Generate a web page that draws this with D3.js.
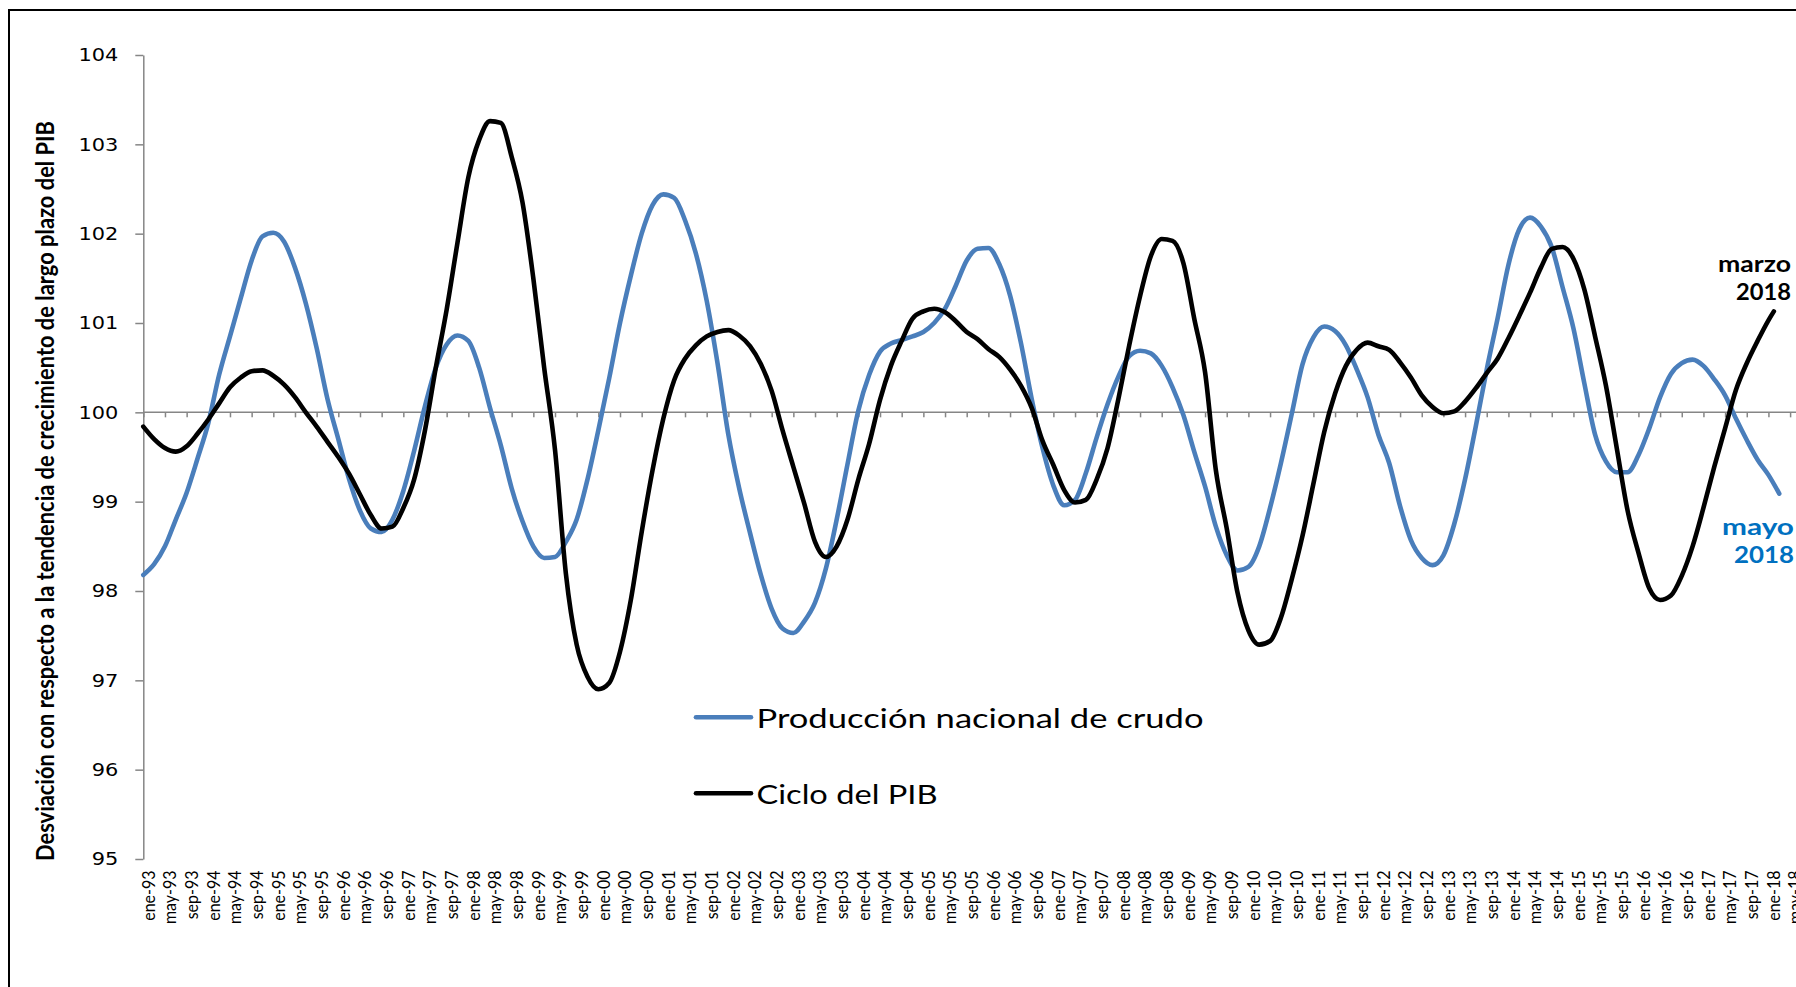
<!DOCTYPE html>
<html>
<head>
<meta charset="utf-8">
<script src="https://cdn.jsdelivr.net/npm/d3@7"></script>
<style>
  html, body { margin: 0; padding: 0; background: #fff; overflow: hidden; }
  svg { display: block; }
</style>
</head>
<body>
<svg id="chart" width="1796" height="987"></svg>
<script>
(function() {

  // categorias del eje X: una etiqueta cada 4 meses (mes 0 = ene-93)
  var etiquetas = [
    "ene-93","may-93","sep-93","ene-94","may-94","sep-94","ene-95","may-95","sep-95",
    "ene-96","may-96","sep-96","ene-97","may-97","sep-97","ene-98","may-98","sep-98",
    "ene-99","may-99","sep-99","ene-00","may-00","sep-00","ene-01","may-01","sep-01",
    "ene-02","may-02","sep-02","ene-03","may-03","sep-03","ene-04","may-04","sep-04",
    "ene-05","may-05","sep-05","ene-06","may-06","sep-06","ene-07","may-07","sep-07",
    "ene-08","may-08","sep-08","ene-09","may-09","sep-09","ene-10","may-10","sep-10",
    "ene-11","may-11","sep-11","ene-12","may-12","sep-12","ene-13","may-13","sep-13",
    "ene-14","may-14","sep-14","ene-15","may-15","sep-15","ene-16","may-16","sep-16",
    "ene-17","may-17","sep-17","ene-18","may-18"
  ];
  var mesesEtiqueta = etiquetas.map((e, i) => i * 4);

  var yTicks = [95, 96, 97, 98, 99, 100, 101, 102, 103, 104];

  // Produccion nacional de crudo, un valor cada 2 meses desde ene-93
  var produccion = [
    98.18, 98.30, 98.50, 98.80, 99.10, 99.48, 99.88, 100.42, 100.85, 101.28,
    101.70, 101.97, 102.01, 101.91, 101.62, 101.22, 100.72, 100.15, 99.70, 99.25,
    98.90, 98.70, 98.66, 98.80, 99.12, 99.57, 100.07, 100.50, 100.76, 100.86,
    100.80, 100.50, 100.05, 99.63, 99.15, 98.78, 98.50, 98.37, 98.38, 98.55,
    98.80, 99.25, 99.80, 100.38, 101.00, 101.53, 102.00, 102.32, 102.44, 102.40,
    102.15, 101.78, 101.25, 100.55, 99.75, 99.15, 98.65, 98.18, 97.80, 97.58,
    97.53, 97.66, 97.87, 98.25, 98.80, 99.42, 100.02, 100.42, 100.68, 100.77,
    100.81, 100.85, 100.90, 101.00, 101.16, 101.42, 101.70, 101.83, 101.84, 101.66,
    101.31, 100.78, 100.15, 99.60, 99.18, 98.96, 99.02, 99.32, 99.72, 100.09,
    100.40, 100.63, 100.69, 100.66, 100.52, 100.28, 99.97, 99.56, 99.17, 98.72,
    98.40, 98.23, 98.27, 98.50, 98.93, 99.43, 99.98, 100.54, 100.84, 100.96,
    100.91, 100.75, 100.48, 100.17, 99.75, 99.43, 98.95, 98.57, 98.37, 98.29,
    98.40, 98.75, 99.25, 99.85, 100.48, 101.05, 101.65, 102.05, 102.18, 102.08,
    101.85, 101.40, 100.94, 100.33, 99.75, 99.45, 99.33, 99.33, 99.52, 99.82,
    100.17, 100.43, 100.55, 100.59, 100.52, 100.37, 100.19, 99.93, 99.69, 99.47,
    99.30, 99.09
  ];
  var mesesProduccion = produccion.map((v, i) => i * 2);

  // Ciclo del PIB, un valor cada 2 meses desde ene-93 y el ultimo dato
  var ciclo = [
    99.84, 99.70, 99.60, 99.56, 99.62, 99.76, 99.92, 100.10, 100.28, 100.39,
    100.46, 100.47, 100.41, 100.31, 100.17, 100.00, 99.84, 99.67, 99.50, 99.31,
    99.08, 98.85, 98.70, 98.72, 98.93, 99.25, 99.80, 100.50, 101.15, 101.90,
    102.63, 103.05, 103.26, 103.24, 102.86, 102.35, 101.50, 100.50, 99.58, 98.20,
    97.40, 97.04, 96.90, 96.97, 97.32, 97.90, 98.66, 99.35, 99.93, 100.36,
    100.60, 100.75, 100.85, 100.90, 100.92, 100.86, 100.74, 100.54, 100.24, 99.80,
    99.39, 98.98, 98.55, 98.38, 98.50, 98.80, 99.25, 99.65, 100.14, 100.52,
    100.80, 101.05, 101.13, 101.16, 101.12, 101.02, 100.90, 100.82, 100.71, 100.62,
    100.48, 100.30, 100.05, 99.68, 99.41, 99.13, 98.99, 99.02, 99.25, 99.60,
    100.15, 100.75, 101.30, 101.75, 101.94, 101.92, 101.67, 101.05, 100.45, 99.35,
    98.70, 97.98, 97.56, 97.40, 97.44, 97.70, 98.13, 98.62, 99.20, 99.78,
    100.21, 100.52, 100.70, 100.78, 100.74, 100.70, 100.56, 100.39, 100.19, 100.06,
    99.99, 100.01, 100.12, 100.27, 100.44, 100.60, 100.83, 101.08, 101.34, 101.62,
    101.83, 101.85, 101.72, 101.38, 100.85, 100.30, 99.60, 98.90, 98.43, 98.03,
    97.90, 97.95, 98.17, 98.50, 98.93, 99.39, 99.82, 100.25, 100.55, 100.80,
    101.03, 101.13
  ];
  var mesesCiclo = ciclo.map((v, i) => i < 151 ? i * 2 : 301);

  var series = [
    { nombre: "Producción nacional de crudo", color: "#4a7ebb", meses: mesesProduccion, valores: produccion },
    { nombre: "Ciclo del PIB", color: "#000000", meses: mesesCiclo, valores: ciclo }
  ];

  var x = d3.scaleLinear()
      .domain([0, 304])
      .range([143.3, 1790.1]);

  var y = d3.scaleLinear()
      .domain([95, 104])
      .range([859, 55]);

  var svg = d3.select("#chart");

  // marco del grafico
  svg.append("rect")
      .attr("x", 9)
      .attr("y", 10)
      .attr("width", 2000)
      .attr("height", 2000)
      .attr("fill", "none")
      .attr("stroke", "#000")
      .attr("stroke-width", 2);

  // eje Y
  var yAxis = d3.axisLeft(y)
      .tickValues(yTicks)
      .tickSize(8)
      .tickSizeOuter(0)
      .tickPadding(17)
      .tickFormat(d3.format("d"));

  var gy = svg.append("g")
      .attr("transform", "translate(" + x(0) + ",0)")
      .call(yAxis);

  gy.select(".domain").attr("stroke", "#868686").attr("stroke-width", 1.5);
  gy.selectAll(".tick line").attr("stroke", "#868686").attr("stroke-width", 1.5);
  gy.selectAll(".tick text")
      .style("font", "18px 'DejaVu Sans'")
      .attr("fill", "#000")
      .attr("textLength", d => String(d).length * 13.3)
      .attr("lengthAdjust", "spacingAndGlyphs");

  // eje X cruzando en 100 (solo marcas)
  var xAxis = d3.axisBottom(x)
      .tickValues(mesesEtiqueta)
      .tickSize(5)
      .tickSizeOuter(0)
      .tickFormat("");

  var gx = svg.append("g")
      .attr("transform", "translate(0," + y(100) + ")")
      .call(xAxis);

  gx.select(".domain").remove();
  gx.append("line")
      .attr("x1", x(0))
      .attr("x2", 1796)
      .attr("stroke", "#868686")
      .attr("stroke-width", 1.5);
  gx.selectAll(".tick line").attr("stroke", "#868686").attr("stroke-width", 1.5);

  // etiquetas del eje X en la parte baja
  var xLabels = d3.axisBottom(x)
      .tickValues(mesesEtiqueta)
      .tickSize(0)
      .tickSizeOuter(0)
      .tickFormat((d, i) => etiquetas[i]);

  var gl = svg.append("g")
      .attr("transform", "translate(0," + y(95) + ")")
      .call(xLabels);

  gl.select(".domain").remove();
  gl.selectAll(".tick text")
      .attr("y", null)
      .attr("text-anchor", "end")
      .attr("dy", "0.35em")
      .attr("transform", "translate(4.6,11.5) scale(1.1,1) rotate(-90)")
      .attr("fill", "#000")
      .style("font", "16px Lato");

  // titulo del eje Y
  svg.append("text")
      .attr("transform", "translate(54,491) scale(1.1,1) rotate(-90)")
      .attr("text-anchor", "middle")
      .attr("textLength", 740)
      .attr("lengthAdjust", "spacingAndGlyphs")
      .style("font", "bold 23px Lato")
      .attr("fill", "#000")
      .text("Desviación con respecto a la tendencia de crecimiento de largo plazo del PIB");

  // series
  var line = d3.line()
      .x(d => x(d[0]))
      .y(d => y(d[1]))
      .curve(d3.curveMonotoneX);

  svg.selectAll(".serie")
      .data(series)
    .enter().append("path")
      .attr("class", "serie")
      .attr("d", s => line(d3.zip(s.meses, s.valores)))
      .attr("fill", "none")
      .attr("stroke", s => s.color)
      .attr("stroke-width", 4.6)
      .attr("stroke-linejoin", "round")
      .attr("stroke-linecap", "round");

  // leyenda
  var legendLen = [447, 181];
  var legend = svg.append("g").attr("class", "legend");
  series.forEach((s, i) => {
    var ly = 717.3 + i * 76;
    legend.append("line")
        .attr("x1", 696)
        .attr("x2", 751)
        .attr("y1", ly)
        .attr("y2", ly)
        .attr("stroke", s.color)
        .attr("stroke-width", 4.6)
        .attr("stroke-linecap", "round");
    legend.append("text")
        .attr("x", 756.5)
        .attr("y", ly + 11)
        .attr("textLength", legendLen[i])
        .attr("lengthAdjust", "spacingAndGlyphs")
        .style("font", "26.5px Lato")
        .attr("fill", "#000")
        .text(s.nombre);
  });

  // anotaciones del ultimo dato
  function nota(lines, color, xr, y0, lens) {
    lines.forEach((t, i) => {
      svg.append("text")
          .attr("x", xr)
          .attr("y", y0 + i * 28.5)
          .attr("text-anchor", "end")
          .attr("textLength", lens[i])
          .attr("lengthAdjust", "spacingAndGlyphs")
          .style("font", "bold 23px Lato")
          .attr("fill", color)
          .text(t);
    });
  }
  nota(["marzo", "2018"], "#000", 1791, 271.5, [73, 55]);
  nota(["mayo", "2018"], "#0070c0", 1794, 534.5, [72, 60]);

})();
</script>
</body>
</html>
